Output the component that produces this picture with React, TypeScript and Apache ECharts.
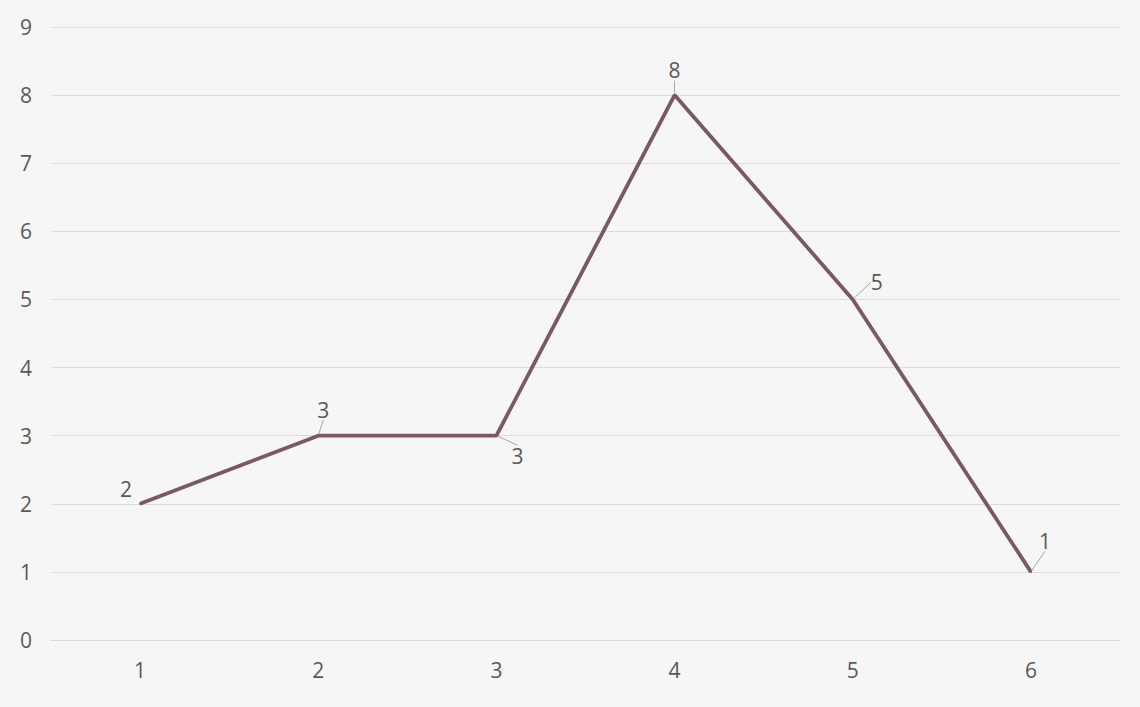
import React, { useEffect, useRef } from "react";
import * as echarts from "echarts";

const categories = ["1", "2", "3", "4", "5", "6"];
const values = [2, 3, 3, 8, 5, 1];
const yTicks = { min: 0, max: 9, interval: 1 };
// label offsets (style) relative to each point
const labelDx = [-14, 5, 21, 0, 24, 14];
const labelDy = [-15, -26, 20, -25, -17, -31];
const showGuide = [false, true, true, true, true, true];

export default function App() {
  const ref = useRef<HTMLDivElement>(null);
  useEffect(() => {
    if (!ref.current) return;
    const chart = echarts.init(ref.current, null, { renderer: "svg" });
    chart.setOption({
      animation: false,
      backgroundColor: "#f6f6f6",
      textStyle: { fontFamily: "Open Sans, Noto Sans, sans-serif" },
      grid: { left: 51, right: 20, top: 27, bottom: 67, containLabel: false },
      xAxis: {
        type: "category",
        data: categories,
        boundaryGap: true,
        axisLine: { show: true, lineStyle: { color: "#d9d9d9", width: 1 } },
        axisTick: { show: false },
        axisLabel: { color: "#595959", fontSize: 21, margin: 19, fontFamily: "Open Sans" },
        splitLine: { show: false },
      },
      yAxis: {
        type: "value",
        min: yTicks.min,
        max: yTicks.max,
        interval: yTicks.interval,
        axisLine: { show: false },
        axisTick: { show: false },
        axisLabel: { color: "#595959", fontSize: 21, margin: 19, fontFamily: "Open Sans" },
        splitLine: { lineStyle: { color: "#dcdcdc", width: 1 } },
      },
      series: [
        {
          type: "line",
          data: values.map((v, i) => ({ value: v, labelLine: { show: showGuide[i] } })),
          symbol: "circle",
          symbolSize: 2,
          itemStyle: { color: "#7a5866" },
          lineStyle: { color: "#7a5866", width: 3.8 },
          label: {
            show: true,
            position: "inside",
            color: "#595959",
            fontSize: 21,
            fontFamily: "Open Sans",
          },
          labelLine: { show: true, lineStyle: { color: "#a6a6a6", width: 1 } },
          labelLayout: (p: any) => ({
            dx: labelDx[p.dataIndex],
            dy: labelDy[p.dataIndex],
          }),
        },
      ],
    });
    return () => chart.dispose();
  }, []);
  return (
    <div
      ref={ref}
      style={{ position: "fixed", left: 0, top: 0, width: 1140, height: 707 }}
    />
  );
}
